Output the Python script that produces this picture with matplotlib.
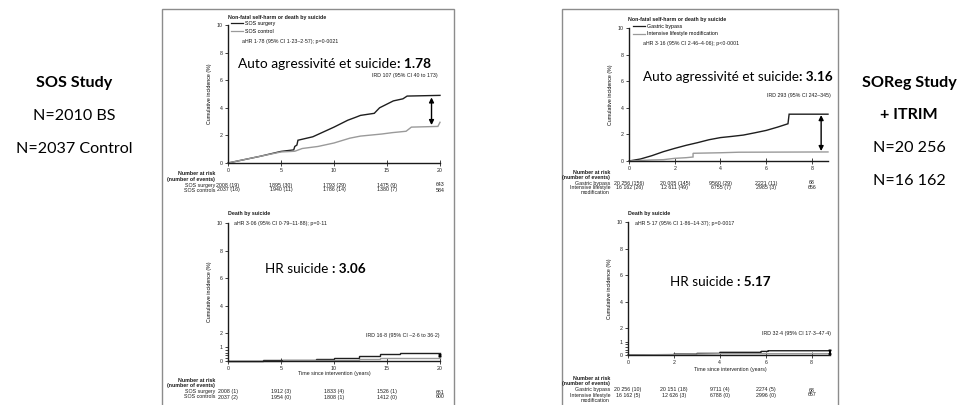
import matplotlib
matplotlib.use("Agg")
import matplotlib.pyplot as plt
import matplotlib.transforms as mtransforms
from matplotlib.lines import Line2D
from matplotlib.patches import Rectangle

W, H = 961, 405

# SOS study: non-fatal self-harm or death by suicide (years, cumulative %)
sos_sh_t_surgery = [0, 3, 5, 6.2, 6.3, 6.5, 6.6, 8, 10, 11.3, 12, 12.5, 13.8, 14.3, 15.6, 16.5, 16.9, 20]
sos_sh_surgery = [0, 0.48, 0.84, 0.95, 1.2, 1.3, 1.65, 1.9, 2.6, 3.1, 3.3, 3.45, 3.6, 4.0, 4.5, 4.65, 4.85, 4.9]
sos_sh_t_control = [0, 3, 5, 6.3, 7, 8.5, 10, 11.5, 12.5, 14.5, 15.5, 16.8, 17.3, 19.8, 20]
sos_sh_control = [0, 0.48, 0.8, 0.85, 1.05, 1.2, 1.45, 1.8, 1.95, 2.1, 2.2, 2.3, 2.6, 2.65, 2.95]

# SOS study: death by suicide
sos_ds_t_surgery = [0, 3.3, 3.3, 8.3, 8.3, 10, 10, 12.4, 12.4, 14.3, 14.3, 16.2, 16.2, 20]
sos_ds_surgery = [0, 0, 0.05, 0.05, 0.14, 0.14, 0.23, 0.23, 0.33, 0.33, 0.5, 0.5, 0.58, 0.58]
sos_ds_t_control = [0, 5.2, 5.2, 12.4, 12.4, 14.3, 14.3, 20]
sos_ds_control = [0, 0, 0.05, 0.05, 0.14, 0.14, 0.19, 0.19]

# SOReg + ITRIM: non-fatal self-harm or death by suicide
sor_sh_t_bypass = [0, 0.5, 1, 1.5, 2, 2.5, 3, 3.5, 4, 4.5, 5, 5.5, 6, 6.5, 6.95, 7.0, 8.7]
sor_sh_bypass = [0, 0.15, 0.4, 0.7, 0.95, 1.18, 1.38, 1.6, 1.76, 1.85, 1.95, 2.12, 2.3, 2.55, 2.8, 3.52, 3.52]
sor_sh_t_lifestyle = [0, 1, 1.5, 2, 2.5, 2.8, 2.8, 4, 4.8, 8.7]
sor_sh_lifestyle = [0, 0.08, 0.1, 0.2, 0.25, 0.3, 0.58, 0.62, 0.66, 0.68]

# SOReg + ITRIM: death by suicide
sor_ds_t_bypass = [0, 2, 2, 3, 3, 4, 4, 5.8, 5.8, 6.1, 6.1, 8.8]
sor_ds_bypass = [0, 0.02, 0.07, 0.07, 0.12, 0.12, 0.2, 0.2, 0.27, 0.27, 0.32, 0.32]
sor_ds_t_lifestyle = [0, 2, 4, 8.8]
sor_ds_lifestyle = [0, 0.04, 0.1, 0.1]

# incidence-rate difference arrows: (x, upper, lower)
sos_sh_arrow = (19.2, 4.75, 2.75)
sos_ds_arrow = (20, 0.56, 0.2)
sor_sh_arrow = (8.4, 3.45, 0.75)
sor_ds_arrow = (8.8, 0.32, 0.1)

sos_ticks = [0, 5, 10, 15, 20]
sor_ticks = [0, 2, 4, 6, 8]

sos_sh_risk = [("SOS surgery", ["2008 (19)", "1895 (30)", "1793 (29)", "1475 (9)", "643"]),
               ("SOS controls", ["2037 (16)", "1940 (11)", "1786 (14)", "1380 (7)", "584"])]
sos_ds_risk = [("SOS surgery", ["2008 (1)", "1912 (3)", "1833 (4)", "1526 (1)", "661"]),
               ("SOS controls", ["2037 (2)", "1954 (0)", "1808 (1)", "1412 (0)", "600"])]
sor_sh_risk = [("Gastric bypass", ["20 256 (156)", "20 005 (145)", "9560 (29)", "2221 (11)", "68"]),
               ("Intensive lifestyle", ["16 162 (26)", "12 611 (49)", "6755 (7)", "2985 (3)", "656"])]
sor_ds_risk = [("Gastric bypass", ["20 256 (10)", "20 151 (18)", "9711 (4)", "2274 (5)", "68"]),
               ("Intensive lifestyle", ["16 162 (5)", "12 626 (3)", "6788 (0)", "2996 (0)", "657"])]

DARK = "#1e1e1e"
GREY = "#9a9a9a"
SMALL = 3.8
BIG_FONT = "Lato"
SMALL_FONT = "Liberation Sans"

fig = plt.figure(figsize=(W / 100, H / 100), dpi=100)
fig.patch.set_facecolor("white")


def fy(y):
    return 1 - y / H


def ptext(x, y, s, size=SMALL, bold=False, ha="left", font=SMALL_FONT, **kw):
    return fig.text(x / W, fy(y), s, fontsize=size, fontweight="bold" if bold else "normal",
                    ha=ha, va="center", family=font, color="#1a1a1a", **kw)


def km_axes(left, top, right, bottom, xmax, xticks, small_scale=False):
    ax = fig.add_axes([left / W, 1 - bottom / H, (right - left) / W, (bottom - top) / H])
    ax.patch.set_alpha(0)
    ax.set_xlim(0, xmax)
    ax.set_ylim(0, 10)
    for s in ("top", "right"):
        ax.spines[s].set_visible(False)
    for s in ("left", "bottom"):
        ax.spines[s].set_linewidth(1.0)
        ax.spines[s].set_color("#1a1a1a")
    ax.set_xticks(xticks)
    if small_scale:
        ax.set_yticks([0, 1, 2, 4, 6, 8, 10])
        ax.set_yticks([0.2, 0.4, 0.6, 0.8], minor=True)
        ax.tick_params(axis="y", which="minor", length=2, width=0.5)
    else:
        ax.set_yticks([0, 2, 4, 6, 8, 10])
    ax.tick_params(labelsize=SMALL, length=2.5, width=0.6, pad=1.5, colors="#222222")
    ax.tick_params(axis="x", direction="inout", length=4)
    for lab in ax.get_xticklabels() + ax.get_yticklabels():
        lab.set_family(SMALL_FONT)
    ax.set_ylabel("Cumulative incidence (%)", fontsize=SMALL, labelpad=3, family=SMALL_FONT)
    return ax


def curves(ax, t1, y1, t2, y2, arrow, head=7):
    ax.plot(t1, y1, color=DARK, lw=1.0, clip_on=False, solid_joinstyle="miter")
    ax.plot(t2, y2, color=GREY, lw=1.0, clip_on=False, solid_joinstyle="miter")
    x, hi, lo = arrow
    ax.annotate("", xy=(x, lo), xytext=(x, hi), annotation_clip=False,
                arrowprops=dict(arrowstyle="<|-|>", color="black", lw=1.0,
                                mutation_scale=head, shrinkA=0, shrinkB=0))


def risk_table(ax, xticks, rows, label_x, y0, extra=None):
    trans = mtransforms.blended_transform_factory(ax.transData, fig.transFigure)
    ptext(label_x, y0, "Number at risk", bold=True, ha="right")
    ptext(label_x, y0 + 5, "(number of events)", bold=True, ha="right")
    for i, (label, values) in enumerate(rows):
        y = y0 + 11 + 5 * i
        ptext(label_x, y, label, ha="right")
        for x, v in zip(xticks, values):
            ax.text(x, fy(y), v, transform=trans, ha="center", va="center",
                    fontsize=SMALL, family=SMALL_FONT, color="#1a1a1a")
    if extra:
        ptext(label_x, y0 + 11 + 5 * len(rows), extra, ha="right")


def headline(x, y, plain, strong, size=9.9):
    # plain part, then the bold value placed right after it
    t = fig.text(x / W, fy(y), plain, fontsize=size, family=BIG_FONT, ha="left", va="bottom",
                 color="black")
    return plt.annotate(strong, xy=(1, 0), xycoords=t, ha="left", va="bottom", fontsize=size,
                        fontweight="bold", family=BIG_FONT, color="black",
                        annotation_clip=False)


# framing boxes around the two studies
for left, right in [(162, 454), (562, 838)]:
    fig.add_artist(Rectangle((left / W, -0.1), (right - left) / W, fy(9) + 0.1,
                             transform=fig.transFigure, fill=False, ec="#8c8c8c", lw=1.0))

# ---- SOS study ----
ax1 = km_axes(228, 25, 440, 163, 20, sos_ticks)
curves(ax1, sos_sh_t_surgery, sos_sh_surgery, sos_sh_t_control, sos_sh_control, sos_sh_arrow)
ptext(228, 17, "Non-fatal self-harm or death by suicide", bold=True)
ax1.legend(handles=[Line2D([], [], color=DARK, lw=0.9), Line2D([], [], color=GREY, lw=0.9)],
           labels=["SOS surgery", "SOS control"], loc="upper left",
           bbox_to_anchor=(231 / W, fy(21)), bbox_transform=fig.transFigure,
           prop=dict(size=SMALL, family=SMALL_FONT), frameon=False, handlelength=2.2,
           handletextpad=0.4, labelspacing=0.55, borderpad=0, borderaxespad=0)
ptext(242, 41, "aHR 1·78 (95% CI 1·23–2·57); p=0·0021")
ptext(438, 76, "IRD 107 (95% CI 40 to 173)", ha="right")
risk_table(ax1, sos_ticks, sos_sh_risk, 215, 174)

ax2 = km_axes(228, 223, 440, 361, 20, sos_ticks, small_scale=True)
curves(ax2, sos_ds_t_surgery, sos_ds_surgery, sos_ds_t_control, sos_ds_control, sos_ds_arrow,
       head=3.5)
ptext(228, 213, "Death by suicide", bold=True)
ptext(234, 223, "aHR 3·06 (95% CI 0·79–11·88); p=0·11")
ptext(440, 335, "IRD 16·8 (95% CI –2·6 to 36·2)", ha="right")
ptext(334, 374, "Time since intervention (years)", ha="center")
risk_table(ax2, sos_ticks, sos_ds_risk, 215, 381)

# ---- SOReg + ITRIM ----
ax3 = km_axes(629, 28, 828, 161, 8.7, sor_ticks)
curves(ax3, sor_sh_t_bypass, sor_sh_bypass, sor_sh_t_lifestyle, sor_sh_lifestyle, sor_sh_arrow)
ptext(628, 19, "Non-fatal self-harm or death by suicide", bold=True)
ax3.legend(handles=[Line2D([], [], color=DARK, lw=0.9), Line2D([], [], color=GREY, lw=0.9)],
           labels=["Gastric bypass", "Intensive lifestyle modification"], loc="upper left",
           bbox_to_anchor=(633 / W, fy(24)), bbox_transform=fig.transFigure,
           prop=dict(size=SMALL, family=SMALL_FONT), frameon=False, handlelength=2.2,
           handletextpad=0.4, labelspacing=0.45, borderpad=0, borderaxespad=0)
ptext(643, 43, "aHR 3·16 (95% CI 2·46–4·06); p<0·0001")
ptext(831, 95, "IRD 293 (95% CI 242–345)", ha="right")
risk_table(ax3, sor_ticks, sor_sh_risk, 610, 172, extra="modification")

ax4 = km_axes(628, 222, 830, 355, 8.8, sor_ticks, small_scale=True)
curves(ax4, sor_ds_t_bypass, sor_ds_bypass, sor_ds_t_lifestyle, sor_ds_lifestyle, sor_ds_arrow,
       head=3.5)
ptext(628, 213, "Death by suicide", bold=True)
ptext(635, 223, "aHR 5·17 (95% CI 1·86–14·37); p=0·0017")
ptext(831, 333, "IRD 32·4 (95% CI 17·3–47·4)", ha="right")
ptext(730, 369, "Time since intervention (years)", ha="center")
risk_table(ax4, sor_ticks, sor_ds_risk, 610, 379, extra="modification")

# large overlay captions
headline(238, 70, "Auto agressivité et suicide", ": 1.78")
headline(265, 275, "HR suicide ", ": 3.06", size=9.7)
headline(643, 83, "Auto agressivité et suicide", ": 3.16", size=9.7)
headline(670, 288, "HR suicide ", ": 5.17", size=9.7)

# study captions on either side
side = dict(family=BIG_FONT, fontsize=11.6, ha="center", va="center", color="black")
fig.text(74 / W, fy(83), "SOS Study", fontweight="bold", **side)
fig.text(74 / W, fy(116), "N=2010 BS", **side)
fig.text(74 / W, fy(149), "N=2037 Control", **side)
fig.text(909 / W, fy(83), "SOReg Study", fontweight="bold", **side)
fig.text(909 / W, fy(115), "+ ITRIM", fontweight="bold", **side)
fig.text(909 / W, fy(148), "N=20 256", **side)
fig.text(909 / W, fy(181), "N=16 162", **side)

fig.savefig("out.png", dpi=100, facecolor="white")
